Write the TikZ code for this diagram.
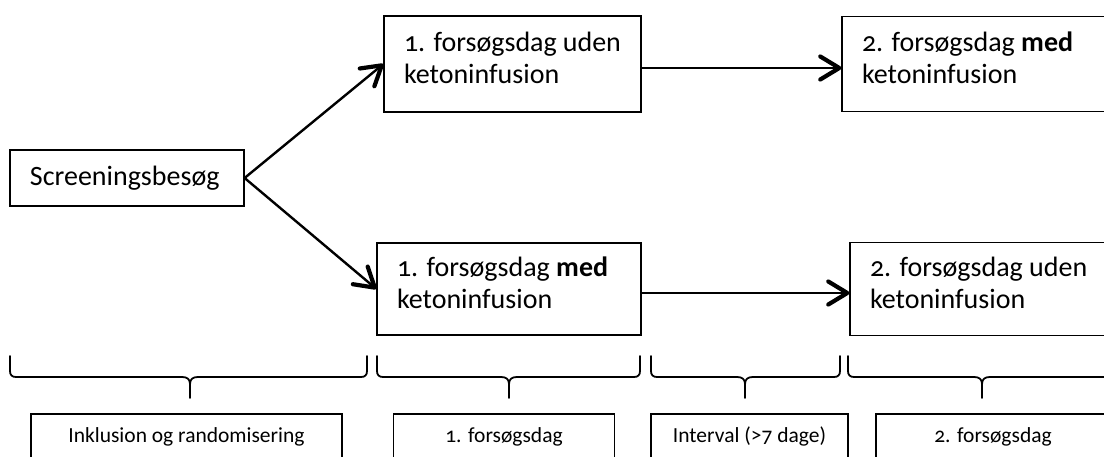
\documentclass[tikz,border=0pt]{standalone}
\usepackage{fontspec}
\setmainfont{Carlito}[Numbers=OldStyle]
\usetikzlibrary{arrows.meta}
\begin{document}
\begin{tikzpicture}[x=1pt,y=-1pt,
  box/.style={draw, line width=1.2pt, rectangle, inner xsep=20pt, inner ysep=0pt,
    align=flush left, font=\fontsize{28}{32}\selectfont},
  twoline/.style={text height=21pt, text depth=46pt},
  lab/.style={draw, line width=1.1pt, rectangle, inner sep=0pt, align=center,
    text height=15pt, text depth=5pt, font=\fontsize{21.5}{24}\selectfont},
  conn/.style={line width=2.4pt, -{Straight Barb[length=19pt,width=23pt,line width=4.2pt,round]}},
  brc/.style={line width=1.8pt, line cap=round, line join=round}]
\useasboundingbox (0,0) rectangle (1104,457);
\clip (0,0) rectangle (1104,457);

% main boxes
\node[box, minimum width=234pt, minimum height=56pt, text width=194pt] (scr) at (127,178) {Screeningsbesøg};
\node[box, twoline, minimum width=257pt, minimum height=96pt, text width=217pt] (t1) at (512.5,64) {1. forsøgsdag uden\\ketoninfusion};
\node[box, twoline, minimum width=280pt, minimum height=95pt, text width=240pt] (t2) at (982,64) {2. forsøgsdag \textbf{med}\\ketoninfusion};
\node[box, twoline, minimum width=264pt, minimum height=92pt, text width=224pt] (b1) at (509,289) {1. forsøgsdag \textbf{med}\\ketoninfusion};
\node[box, twoline, minimum width=280pt, minimum height=93pt, text width=240pt] (b2) at (990,289) {2. forsøgsdag uden\\ketoninfusion};

% connectors
\draw[conn] (scr.east) -- (t1.west);
\draw[conn] (scr.east) -- (b1.west);
\draw[conn] ([yshift=-4pt]t1.east) -- ([yshift=-4pt]t2.west);
\draw[conn] ([yshift=-4pt]b1.east) -- ([yshift=-4pt]b2.west);

% braces
\foreach \a/\c/\b in {10/190/367, 377/509/640, 651/745/840, 848/982/1116}{
  \draw[brc] (\a,356) -- (\a,371) .. controls (\a,375) and (\a+2,377) .. (\a+6,377)
    -- (\c-8,377) .. controls (\c-3,377) and (\c,379) .. (\c,384) -- (\c,398);
  \draw[brc] (\c,384) .. controls (\c,379) and (\c+3,377) .. (\c+8,377)
    -- (\b-6,377) .. controls (\b-2,377) and (\b,375) .. (\b,371) -- (\b,356);
}

% labels
\node[lab, minimum width=311pt, minimum height=46pt] (l1) at (186.5,437) {Inklusion og randomisering};
\node[lab, minimum width=221pt, minimum height=46pt] (l2) at (504,437) {1. forsøgsdag};
\node[lab, minimum width=197pt, minimum height=46pt] (l3) at (749.5,437) {Interval (>7 dage)};
\node[lab, minimum width=234pt, minimum height=46pt] (l4) at (993,437) {2. forsøgsdag};
\end{tikzpicture}
\end{document}
